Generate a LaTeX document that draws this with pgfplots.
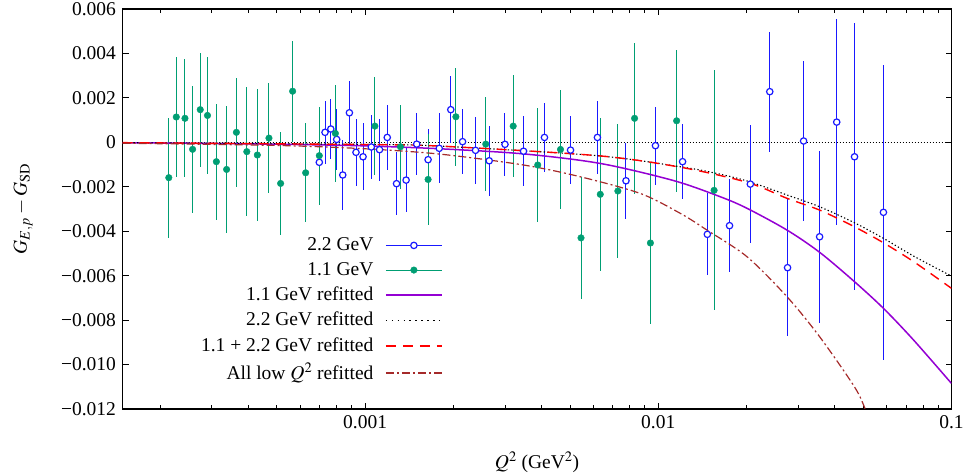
\documentclass[border=0pt]{standalone}
\usepackage{mathptmx}
\usepackage{fontspec}
\setmainfont{Liberation Serif}
\usepackage{pgfplots}
\usepackage{pgfplotstable}
\pgfplotsset{compat=1.18}
\definecolor{grn}{HTML}{009E73}
\definecolor{blu}{rgb}{0.1,0.1,1}
\definecolor{pur}{HTML}{9400D3}
\definecolor{brn}{HTML}{A52A2A}
\definecolor{rd}{HTML}{FF0000}
\newcommand{\bigfont}{\fontsize{19.5bp}{23bp}\selectfont}

\pgfplotstableread{
x y e
6.98e-4 -0.0009 0.0014
7.30e-4 0.00045 0.00141
7.64e-4 0.0006 0.00135
8.0e-4 0.00013 0.00139
8.39e-4 -0.00147 0.00158
8.84e-4 0.00133 0.00143
9.31e-4 -0.00045 0.00152
9.84e-4 -0.00065 0.0015
1.05e-3 -0.00021 0.00143
1.12e-3 -0.00033 0.00139
1.19e-3 0.00022 0.00146
1.28e-3 -0.00186 0.00143
1.38e-3 -0.0017 0.00143
1.50e-3 -0.00008 0.0014
1.64e-3 -0.00078 0.0014
1.79e-3 -0.00027 0.00157
1.96e-3 0.00147 0.0015
2.15e-3 0.00003 0.00147
2.38e-3 -0.00036 0.0015
2.65e-3 -0.00083 0.00157
3.0e-3 -0.00009 0.00143
3.47e-3 -0.0004 0.00158
4.09e-3 0.00022 0.00156
5.02e-3 -0.00035 0.00153
6.2e-3 0.00022 0.00165
7.76e-3 -0.00173 0.0017
9.78e-3 -0.00015 0.00175
1.21e-2 -0.00087 0.0017
1.47e-2 -0.00414 0.00184
1.75e-2 -0.00375 0.0021
2.06e-2 -0.00188 0.00265
2.40e-2 0.00228 0.0027
2.76e-2 -0.00564 0.00307
3.13e-2 0.00006 0.0036
3.55e-2 -0.00425 0.00386
4.06e-2 0.00091 0.00463
4.67e-2 -0.00065 0.006
5.86e-2 -0.00315 0.00664
}\twotwo

\pgfplotstableread{
x y e
2.14e-4 -0.00159 0.0027
2.27e-4 0.00114 0.0027
2.43e-4 0.00108 0.00266
2.58e-4 -0.000315 0.00285
2.74e-4 0.00147 0.00256
2.90e-4 0.00121 0.00264
3.11e-4 -0.00087 0.00261
3.37e-4 -0.00122 0.00285
3.64e-4 0.00045 0.00244
3.95e-4 -0.00042 0.00291
4.29e-4 -0.00057 0.00298
4.70e-4 0.00019 0.00248
5.15e-4 -0.00185 0.0023
5.66e-4 0.0023 0.00227
6.27e-4 -0.00137 0.00223
6.98e-4 -0.0006 0.0022
7.92e-4 0.0004 0.0022
1.08e-3 0.00073 0.0022
1.32e-3 -0.0002 0.0019
1.64e-3 -0.00167 0.00204
2.04e-3 0.00115 0.0022
2.58e-3 -0.00008 0.0021
3.20e-3 0.00073 0.0023
3.88e-3 -0.00102 0.00255
4.64e-3 -0.00032 0.00266
5.45e-3 -0.0043 0.00275
6.34e-3 -0.00234 0.00343
7.28e-3 -0.00219 0.003
8.3e-3 0.00108 0.0034
9.4e-3 -0.00453 0.00365
1.155e-2 0.00097 0.0032
1.55e-2 -0.00216 0.0054
}\oneone

\begin{document}
\bigfont
\begin{tikzpicture}[font=\bigfont]
\begin{axis}[
  scale only axis, width=828.8bp, height=400bp,
  xmode=log, xmin=1.49e-4, xmax=0.1,
  ymin=-0.012, ymax=0.006,
  xtick={0.001,0.01,0.1}, xticklabels={0.001,0.01,0.1},
  minor xtick={2e-4,3e-4,4e-4,5e-4,6e-4,7e-4,8e-4,9e-4,2e-3,3e-3,4e-3,5e-3,6e-3,7e-3,8e-3,9e-3,2e-2,3e-2,4e-2,5e-2,6e-2,7e-2,8e-2,9e-2},
  ytick={-0.012,-0.010,-0.008,-0.006,-0.004,-0.002,0,0.002,0.004,0.006},
  yticklabels={−0.012,−0.010,−0.008,−0.006,−0.004,−0.002,0,0.002,0.004,0.006},
  scaled y ticks=false,
  tick align=inside, major tick length=6bp, minor tick length=4bp,
  tick style={black, line width=0.8bp},
  axis line style={line width=1.3bp},
  every tick label/.append style={font=\bigfont},
  label style={font=\bigfont},
  xlabel={$Q^2$ (GeV$^2$)}, ylabel={$G_{E,p} - G_{\mathrm{SD}}$},
  xlabel style={at={(axis description cs:0.5,-0.1325)}, anchor=center},
  ylabel style={at={(axis description cs:-0.1203,0.5)}, anchor=center},
  legend plot pos=right,
  legend cell align=right,
  legend style={draw=none, fill=none, at={(axis description cs:0.389,0.438)}, anchor=north east,
    row sep=5.8bp, inner sep=2bp, font=\bigfont,
    nodes={inner sep=1.5bp, font=\bigfont},
    /tikz/every odd column/.append style={column sep=10bp}},
  clip mode=global,
]
\addplot[forget plot, black, line width=0.8bp, dash pattern=on 1bp off 2bp] coordinates {(1.49e-4,0) (0.1,0)};

\addplot[only marks, blu, mark=*, mark size=3.2bp, mark options={fill=white, draw=blu, line width=1.2bp},
  legend image code/.code={\draw[draw=blu, line width=1bp] (0bp,0bp) -- (56bp,0bp); \draw[draw=blu, fill=white, line width=1.2bp] (28bp,0bp) circle (3.2bp);},
  error bars/.cd, y dir=both, y explicit, error mark=none, error bar style={line width=1bp, draw=blu, color=blu}]
  table[x=x, y=y, y error=e] {\twotwo};
\addlegendentry{2.2 GeV}

\addplot[only marks, grn, mark=*, mark size=3.3bp, mark options={fill=grn, draw=grn},
  legend image code/.code={\draw[draw=grn, line width=1bp] (0bp,0bp) -- (56bp,0bp); \fill[fill=grn] (28bp,0bp) circle (3.3bp);},
  error bars/.cd, y dir=both, y explicit, error mark=none, error bar style={line width=1bp, draw=grn, color=grn}]
  table[x=x, y=y, y error=e] {\oneone};
\addlegendentry{1.1 GeV}

\addplot[draw=pur, line width=1.5bp, smooth,
  legend image code/.code={\draw[draw=pur, line width=2bp] (0bp,0bp) -- (56bp,0bp);}] coordinates {
(1.49e-4,-0.00002) (3e-4,-0.00005) (6e-4,-0.0001) (1.0e-3,-0.00016) (1.8e-3,-0.00029)
(3.47e-3,-0.00052) (6.34e-3,-0.00095) (1.127e-2,-0.00172) (1.628e-2,-0.00245)
(2.008e-2,-0.00297) (2.749e-2,-0.00395) (3.552e-2,-0.00495) (4.667e-2,-0.00627)
(5.86e-2,-0.00747) (7.43e-2,-0.0089) (0.1,-0.01085)};
\addlegendentry{1.1 GeV refitted}

\addplot[draw=black, line width=1.1bp, dash pattern=on 1.3bp off 2.3bp, smooth,
  legend image code/.code={\draw[draw=black, line width=1.2bp, dash pattern=on 1.5bp off 4.4bp] (0bp,0bp) -- (56bp,0bp);}] coordinates {
(1.49e-4,-0.000014) (1e-3,-0.00009) (1.8e-3,-0.00017) (6.19e-3,-0.0006) (1.19e-2,-0.0011)
(1.545e-2,-0.00137) (2.008e-2,-0.00174) (2.749e-2,-0.00237) (3.552e-2,-0.0029)
(4.667e-2,-0.00362) (5.86e-2,-0.00432) (7.43e-2,-0.00512) (0.1,-0.00602)};
\addlegendentry{2.2 GeV refitted}

\addplot[draw=rd, line width=1.4bp, dash pattern=on 10bp off 7bp, smooth,
  legend image code/.code={\draw[draw=rd, line width=1.4bp, dash pattern=on 10bp off 7bp] (0bp,0bp) -- (56bp,0bp);}] coordinates {
(1.49e-4,-0.000015) (1e-3,-0.0001) (1.8e-3,-0.00017) (6.19e-3,-0.0006) (1.19e-2,-0.00112)
(2.008e-2,-0.0018) (2.749e-2,-0.00252) (3.552e-2,-0.00305) (4.667e-2,-0.0038)
(5.86e-2,-0.00452) (7.43e-2,-0.00537) (0.1,-0.00657)};
\addlegendentry{1.1 + 2.2 GeV refitted}

\addplot[draw=brn, line width=1.2bp, dash pattern=on 8bp off 3bp on 2bp off 3bp, smooth,
  legend image code/.code={\draw[draw=brn, line width=1.4bp, dash pattern=on 8bp off 3bp on 2bp off 3bp] (0bp,0bp) -- (56bp,0bp);}] coordinates {
(1.49e-4,-0.00004) (5e-4,-0.00014) (1e-3,-0.00029) (1.8e-3,-0.00053) (3.47e-3,-0.00102)
(5.42e-3,-0.00155) (8.68e-3,-0.0023) (1.19e-2,-0.0032) (1.466e-2,-0.00395)
(2.008e-2,-0.00515) (2.749e-2,-0.00695) (3.552e-2,-0.00875) (4.667e-2,-0.011)
(5.08e-2,-0.0120) (5.3e-2,-0.0126)};
\addlegendentry{All low $Q^2$ refitted}
\end{axis}
\pgfresetboundingbox
\path[use as bounding box] (current axis.south west) ++(-122.7bp,-67bp) rectangle ++(966bp,476bp);
\end{tikzpicture}
\end{document}
